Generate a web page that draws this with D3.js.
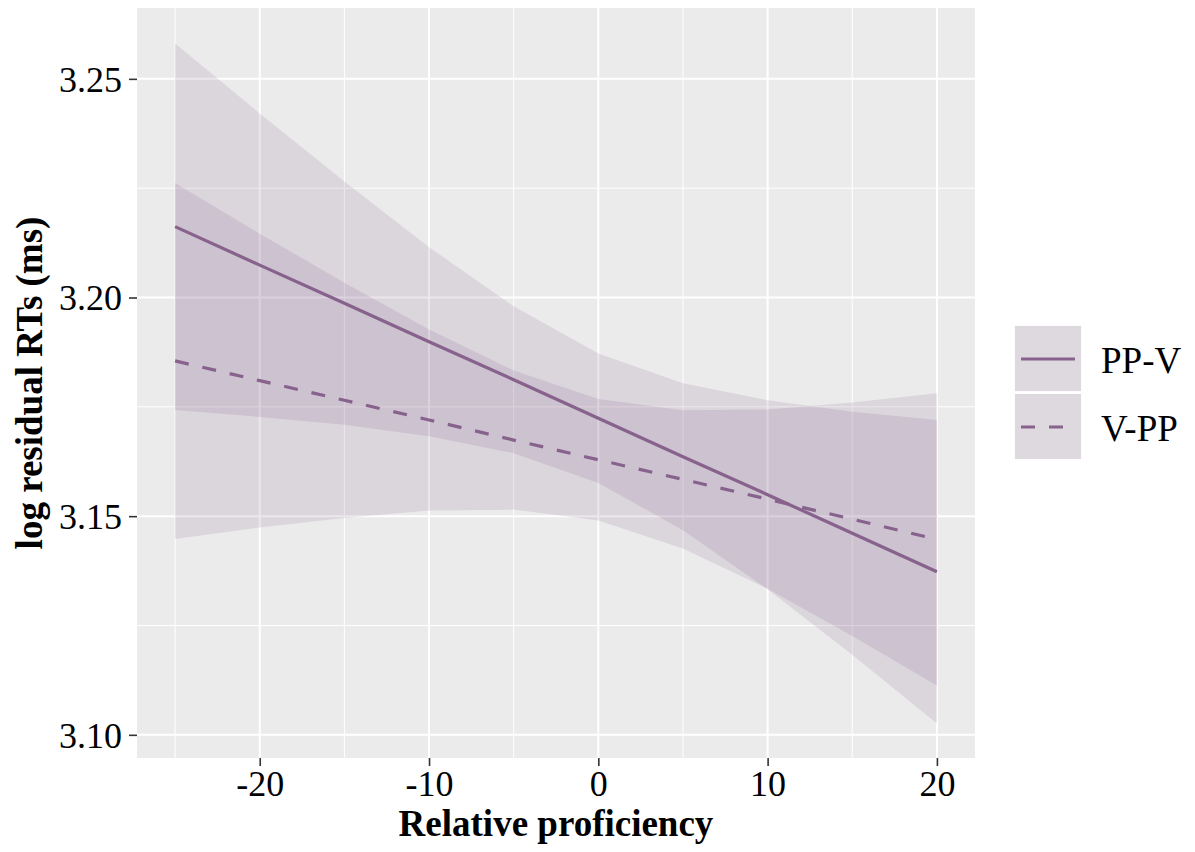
<!DOCTYPE html>
<html>
<head>
<meta charset="utf-8">
<script src="https://cdn.jsdelivr.net/npm/d3@7"></script>
<style>
  body { margin: 0; background: #fff; }
  svg text { font-family: "Liberation Serif", "Times New Roman", serif; }
</style>
</head>
<body>
<svg id="chart" width="1195" height="852"></svg>
<script>
// values (effect estimates with confidence band)
var proficiency = [-25, -20, -15, -10, -5, 0, 5, 10, 15, 20];

var ppvFit   = [3.2162, 3.2074, 3.1987, 3.1899, 3.1812, 3.1724, 3.1636, 3.1549, 3.1461, 3.1373];
var ppvLow   = [3.1743, 3.1727, 3.1709, 3.1683, 3.1644, 3.1576, 3.1468, 3.1333, 3.1183, 3.1026];
var ppvHigh  = [3.2581, 3.2421, 3.2265, 3.2115, 3.1980, 3.1872, 3.1804, 3.1765, 3.1739, 3.1720];

var vppFit   = [3.1855, 3.1810, 3.1765, 3.1720, 3.1674, 3.1629, 3.1584, 3.1539, 3.1493, 3.1447];
var vppLow   = [3.1448, 3.1474, 3.1496, 3.1513, 3.1515, 3.1490, 3.1426, 3.1334, 3.1226, 3.1113];
var vppHigh  = [3.2262, 3.2146, 3.2034, 3.1927, 3.1833, 3.1768, 3.1742, 3.1744, 3.1760, 3.1781];

var groupNames = ["PP-V", "V-PP"];
var xTicks = [-20, -10, 0, 10, 20];
var xMinor = [-25, -15, -5, 5, 15];
var yTicks = [3.10, 3.15, 3.20, 3.25];
var yMinor = [3.125, 3.175, 3.225];

var lineColor = "#86628c",
    bandAlpha = 0.16,
    panel = {left: 137, right: 975, top: 8, bottom: 758};

var svg = d3.select("#chart");

var x = d3.scaleLinear().domain([-27.25, 22.25]).range([panel.left, panel.right]);
var y = d3.scaleLinear().domain([3.0947, 3.2662]).range([panel.bottom, panel.top]);

function rows(fit, lo, hi) {
  return proficiency.map(function(p, i) {
    return {x: p, fit: fit[i], lo: lo[i], hi: hi[i]};
  });
}
var groups = [
  {name: groupNames[0], dash: null, data: rows(ppvFit, ppvLow, ppvHigh)},
  {name: groupNames[1], dash: "14,14", data: rows(vppFit, vppLow, vppHigh)}
];

// panel + grid
svg.append("rect")
  .attr("x", panel.left).attr("y", panel.top)
  .attr("width", panel.right - panel.left).attr("height", panel.bottom - panel.top)
  .attr("fill", "#ebebeb");

var grid = svg.append("g");
grid.selectAll(".xm").data(xMinor).enter().append("line")
  .attr("x1", d => x(d)).attr("x2", d => x(d))
  .attr("y1", panel.top).attr("y2", panel.bottom)
  .attr("stroke", "#fff").attr("stroke-width", 1);
grid.selectAll(".ym").data(yMinor).enter().append("line")
  .attr("y1", d => y(d)).attr("y2", d => y(d))
  .attr("x1", panel.left).attr("x2", panel.right)
  .attr("stroke", "#fff").attr("stroke-width", 1);
grid.selectAll(".xM").data(xTicks).enter().append("line")
  .attr("x1", d => x(d)).attr("x2", d => x(d))
  .attr("y1", panel.top).attr("y2", panel.bottom)
  .attr("stroke", "#fff").attr("stroke-width", 2);
grid.selectAll(".yM").data(yTicks).enter().append("line")
  .attr("y1", d => y(d)).attr("y2", d => y(d))
  .attr("x1", panel.left).attr("x2", panel.right)
  .attr("stroke", "#fff").attr("stroke-width", 2);

// ribbons
var area = d3.area().x(d => x(d.x)).y0(d => y(d.lo)).y1(d => y(d.hi));
svg.append("g").selectAll("path").data(groups).enter().append("path")
  .attr("d", d => area(d.data))
  .attr("fill", lineColor).attr("fill-opacity", bandAlpha);

// fitted lines
var line = d3.line().x(d => x(d.x)).y(d => y(d.fit));
svg.append("g").selectAll("path").data(groups).enter().append("path")
  .attr("d", d => line(d.data))
  .attr("fill", "none")
  .attr("stroke", lineColor).attr("stroke-width", 3.2)
  .attr("stroke-dasharray", d => d.dash);

// axes (plain hyphen for negatives, like the reference)
var xAxis = svg.append("g")
  .attr("transform", "translate(0," + panel.bottom + ")")
  .call(d3.axisBottom(x).tickValues(xTicks).tickSize(8).tickPadding(4)
    .tickFormat(d => String(d)));
var yAxis = svg.append("g")
  .attr("transform", "translate(" + panel.left + ",0)")
  .call(d3.axisLeft(y).tickValues(yTicks).tickSize(8).tickPadding(7).tickFormat(d3.format(".2f")));

[xAxis, yAxis].forEach(function(a) {
  a.select(".domain").remove();
  a.selectAll(".tick line").attr("stroke", "#333").attr("stroke-width", 1.6);
  a.selectAll(".tick text")
    .attr("fill", "#000")
    .style("font-family", "'Liberation Serif', serif")
    .style("font-size", "36px");
});
xAxis.selectAll(".tick text").attr("dy", null).attr("y", 38);
yAxis.selectAll(".tick text").attr("dy", "0.34em");

// axis titles
svg.append("text")
  .attr("x", (panel.left + panel.right) / 2).attr("y", 836)
  .attr("text-anchor", "middle")
  .style("font-size", "37px").style("font-weight", "bold")
  .text("Relative proficiency");

svg.append("text")
  .attr("transform", "translate(42," + (panel.top + panel.bottom) / 2 + ") rotate(-90)")
  .attr("text-anchor", "middle")
  .style("font-size", "37px").style("font-weight", "bold")
  .text("log residual RTs  (ms)");

// legend
var legend = svg.append("g").attr("transform", "translate(1014,325)");
var keyH = 68;
var item = legend.selectAll("g").data(groups).enter().append("g")
  .attr("transform", (d, i) => "translate(0," + i * keyH + ")");
item.append("rect")
  .attr("width", 68).attr("height", keyH - 1)
  .attr("fill", "#f2f2f2").attr("stroke", "#fff").attr("stroke-width", 1.5);
item.append("rect")
  .attr("x", 1).attr("y", 1).attr("width", 66).attr("height", keyH - 3)
  .attr("fill", lineColor).attr("fill-opacity", bandAlpha + 0.02);
item.append("line")
  .attr("x1", 7).attr("x2", 61)
  .attr("y1", keyH / 2).attr("y2", keyH / 2)
  .attr("stroke", lineColor).attr("stroke-width", 3.2)
  .attr("stroke-dasharray", d => d.dash);
item.append("text")
  .attr("x", 87).attr("y", keyH / 2 + 14)
  .style("font-size", "37px")
  .text(d => d.name);
</script>
</body>
</html>
